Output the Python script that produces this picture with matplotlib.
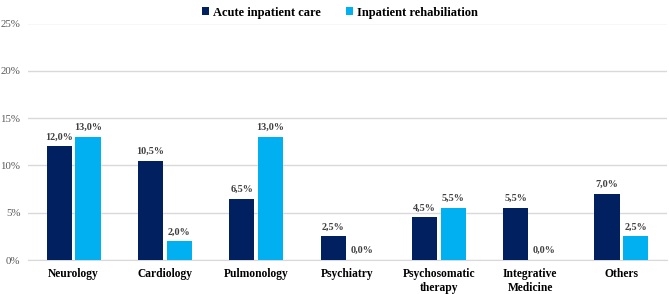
import matplotlib
matplotlib.use("Agg")
import matplotlib.pyplot as plt
import numpy as np
from matplotlib.ticker import FuncFormatter

categories = ["Neurology", "Cardiology", "Pulmonology", "Psychiatry",
              "Psychosomatic\ntherapy", "Integrative\nMedicine", "Others"]
acute = [12.0, 10.5, 6.5, 2.5, 4.5, 5.5, 7.0]
rehab = [13.0, 2.0, 13.0, 0.0, 5.5, 0.0, 2.5]
series_names = ["Acute inpatient care", "Inpatient rehabiliation"]
yticks = [0, 5, 10, 15, 20, 25]

plt.rcParams['font.family'] = ['Liberation Serif', 'DejaVu Serif']

fig = plt.figure(figsize=(6.69, 2.94), dpi=100)
ax = fig.add_axes([28/669, 1-260/294, (667-28)/669, (260-23.5)/294])

x = np.arange(len(categories))
w = 0.275
gap = 0.04
c1 = "#002060"
c2 = "#00B0F0"
b1 = ax.bar(x - (w+gap)/2, acute, w, color=c1, label=series_names[0], zorder=3)
b2 = ax.bar(x + (w+gap)/2, rehab, w, color=c2, label=series_names[1], zorder=3)

def fmt(v):
    return f"{v:.1f}%".replace(".", ",")

for bars, vals in ((b1, acute), (b2, rehab)):
    for b, v in zip(bars, vals):
        ax.text(b.get_x() + b.get_width()/2, v + 0.5, fmt(v), ha='center', va='bottom',
                fontsize=7.3, fontweight='bold', color='#404040')

ax.set_ylim(0, 25)
ax.set_xlim(-0.5, 6.5)
ax.set_yticks(yticks)
ax.yaxis.set_major_formatter(FuncFormatter(lambda v, p: f"{int(v)}%"))
ax.grid(axis='y', color='#d9d9d9', linewidth=1, zorder=0)
ax.set_xticks(x)
ax.set_xticklabels(categories, fontsize=8.3, fontweight='bold', color='#000000', linespacing=1.15)
for s in ['top', 'right', 'left']:
    ax.spines[s].set_visible(False)
ax.spines['bottom'].set_color('#d9d9d9')
ax.tick_params(axis='both', length=0)
ax.tick_params(axis='y', labelsize=7.8, labelcolor='#595959', pad=5.5)
ax.tick_params(axis='x', pad=6)

leg = fig.legend(loc='upper center', bbox_to_anchor=(0.508, 1.015), ncol=2, frameon=False,
                 prop={'weight': 'bold', 'size': 9}, handlelength=0.6, handleheight=0.6,
                 handletextpad=0.3, columnspacing=2.0)

fig.savefig("out.png", dpi=100)
